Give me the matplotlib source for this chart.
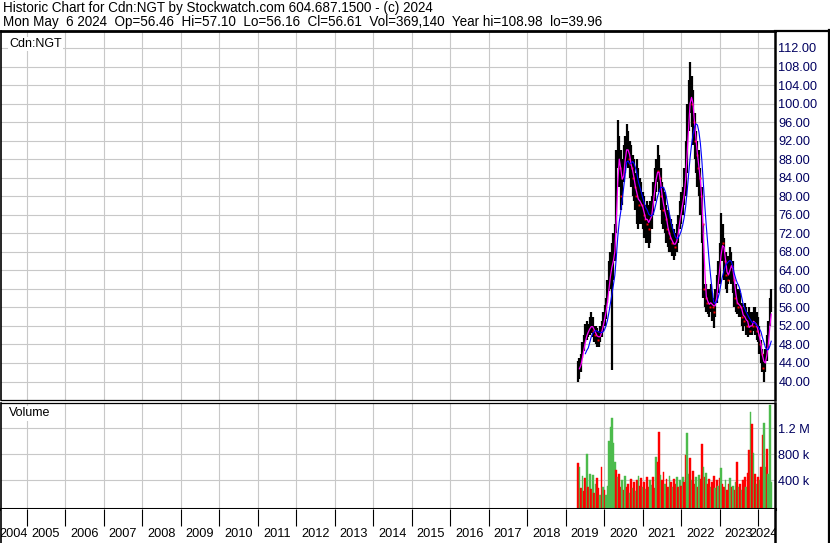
import numpy as np
import pandas as pd
import matplotlib
matplotlib.use("Agg")
import matplotlib.pyplot as plt
from matplotlib.lines import Line2D

plt.rcParams["font.family"] = ["Liberation Sans", "DejaVu Sans"]

# biweekly bars, Cdn:NGT (C$)
dates = pd.date_range(end="2024-05-06", periods=132, freq="14D")

high = [44.5, 45, 46, 48.5, 50, 52.5, 53, 52.5, 54, 55, 54, 52, 52, 51.5, 51, 52, 53, 55, 56.5, 58,
        62, 66, 68, 70, 72, 74, 90, 96.4, 93, 90, 88, 91, 93, 95.5, 94, 92, 91, 89, 88, 85,
        88, 86, 84, 83, 81, 80, 78, 79, 78, 79, 80, 83, 86, 88, 91, 89, 86, 83, 82, 81,
        78, 77, 76, 75, 74, 73, 72, 74, 76, 79, 81, 82, 86, 92, 100, 105, 109, 106, 103, 98,
        94, 92, 90, 86, 82, 74, 61, 61, 60, 60, 61, 59, 58, 60, 63, 66, 70, 76.3, 74, 71,
        68, 66, 67, 69, 68, 66, 62, 61, 60, 60, 59, 57, 56, 57, 56, 55, 56, 55, 55, 56,
        56, 55, 54, 52, 49, 47, 46, 47, 50, 53, 58, 60]
low = [39.9, 40.5, 42, 45, 46.5, 48.5, 49, 49.5, 50, 50.5, 49.5, 48.5, 48, 47.5, 47.5, 48.5, 49.5, 51, 52, 53.5,
       57, 59.5, 60, 42.4, 62, 66, 72, 86, 82, 77, 78, 83, 85, 87, 86, 84, 82, 80, 79, 77,
       74, 73, 74, 74, 73, 71, 70, 70, 68.8, 70, 73, 76, 79, 81, 83, 81, 77, 74, 73, 72,
       70, 69, 68, 68, 67, 66.2, 67, 68, 70, 73, 74, 76, 78, 80, 85, 94, 98, 95, 91, 88,
       85, 82, 80, 76, 70, 58, 56, 55, 54.5, 54, 55, 53, 51.5, 54, 57, 59, 61, 66, 66, 62,
       60, 59, 61, 62, 61, 59, 56, 55, 54.5, 54, 54, 52, 51, 52, 50, 49.5, 50, 50, 50, 51,
       50, 49, 48.5, 46, 44, 42, 39.96, 42, 44.5, 47, 52, 55]
close = [42.5, 43, 45, 47, 48.5, 50, 51, 51, 52, 52.5, 51, 50, 50.5, 49, 49.5, 50.5, 51.5, 53.5, 55, 56.5,
         60, 63, 65, 66, 67, 71, 86, 92, 86, 80, 85, 88, 90, 92, 88, 87, 86, 84, 82, 80,
         80, 78, 79, 78, 76, 75, 74, 76, 73, 76, 78, 81, 84, 86, 85.5, 84, 80, 77, 78, 75,
         73, 72, 71, 70, 70, 69, 70, 72, 74, 77, 78, 80, 83, 88, 96, 100, 104, 100, 96, 92,
         89, 86, 84, 80, 74, 60, 58, 57, 57, 56, 58, 56, 55, 58, 61, 64, 67, 71, 70, 66,
         63, 62, 64, 66, 65, 62, 58, 57, 56, 57, 56, 54, 53, 55, 52, 52, 51, 53, 52, 54,
         52, 51, 50, 48, 46, 43, 44, 45, 48, 51, 56, 56.61]
volume_k = [660, 600, 280, 470, 230, 440, 805, 300, 500, 260, 480, 200, 350, 435, 280, 180, 605, 300, 250, 180,
            320, 1000, 1220, 1363, 970, 680, 560, 450, 500, 300, 400, 250, 470, 300, 350, 200, 420, 280, 380, 230,
            400, 460, 320, 430, 300, 380, 260, 450, 300, 400, 330, 450, 280, 763, 686, 1138, 480, 400, 530, 350,
            420, 300, 470, 380, 300, 420, 350, 450, 300, 400, 320, 450, 380, 790, 1127, 500, 742, 400, 550, 350,
            450, 300, 480, 420, 965, 610, 450, 520, 350, 420, 300, 380, 460, 280, 400, 320, 430, 590, 350, 300,
            400, 250, 350, 440, 300, 320, 250, 380, 686, 300, 350, 250, 400, 450, 300, 520, 866, 1456, 1266, 820,
            500, 350, 450, 400, 600, 1097, 1280, 600, 877, 500, 1560, 369]
# bar colour as seen in the volume panel (g = up, r = down)
vol_side = ("rgrgrrgrgr" "grgrrgrgrg" "ggggggrgrr" "grgrrgrgrg" "rgrrgrgrrg"
            "grrgrrgrrg" "rrgrgrrgrg" "rgrrggrgrr" "grgrrgrgrr" "grrgrgrgrr"
            "grrgrgrgrg" "rgrrgrrgrg" "rgrgrrggrg" "gg")

W, H = 830, 543
fig = plt.figure(figsize=(W / 100, H / 100), dpi=100)


def ax_px(x0, y0, x1, y1):
    return fig.add_axes([x0 / W, 1 - y1 / H, (x1 - x0) / W, (y1 - y0) / H])


def dec_year(d):
    return np.asarray(d.year + (d.dayofyear - 1) / np.where(d.is_leap_year, 366, 365))


x = dec_year(dates)
bw = 14 / 365.25
xl = 2005 + (1 - 26.5) / 38.5
xr = 2005 + (775 - 26.5) / 38.5
years = np.arange(2005, 2025)
GRID = "#c8c8c8"
NAVY = "#000060"
TICKFS = 9.2

# ---- price panel
ax = ax_px(1, 31, 775, 399.5)
ax.set_xlim(xl, xr)
ax.set_ylim(40 + (381.5 - 399.5) / 4.632, 40 + (381.5 - 31) / 4.632)
for yv in range(40, 113, 4):
    ax.axhline(yv, color=GRID, lw=0.8, zorder=0)
for yr in years:
    ax.axvline(yr, color=GRID, lw=0.8, zorder=0)
ax.vlines(x, low, high, color="black", lw=1.6, zorder=2)
cs = pd.Series(close)
down = (cs.diff() < 0).to_numpy()
ax.plot(x[down] + bw / 2, cs[down], ls="none", marker="s", ms=1.4, color="#ff0000", mew=0, zorder=3)
ax.plot(x, cs.rolling(3, min_periods=2).mean(), color="#ff00ff", lw=0.9, zorder=4)
ax.plot(x, cs.rolling(8, min_periods=6).mean(), color="#0000ff", lw=0.8, zorder=5)
ax.yaxis.tick_right()
ax.set_yticks(range(40, 113, 4))
ax.set_yticklabels([f"{v:.2f}" for v in range(40, 113, 4)], color=NAVY, fontsize=TICKFS)
ax.tick_params(axis="y", length=0, pad=2.5)
ax.set_xticks([])
ax.spines["top"].set_linewidth(2.0)
ax.spines["right"].set_linewidth(1.8)
ax.spines["bottom"].set_linewidth(0.9)
ax.spines["left"].set_linewidth(1.2)
ax.text(8 / 774, 1 - 13 / 368.5, "Cdn:NGT", transform=ax.transAxes, fontsize=9, va="center", ha="left",
        bbox=dict(fc="white", ec="none", pad=1), zorder=6)

# ---- volume panel
vlo = -(509 - 506.3) / 26 * 400
vhi = (506.3 - 402.5) / 26 * 400
av = ax_px(1, 402.5, 775, 509)
av.set_xlim(xl, xr)
av.set_ylim(vlo, vhi)
for yv in (400, 800, 1200):
    av.axhline(yv, color=GRID, lw=0.8, zorder=0)
for yr in years:
    av.axvline(yr, color=GRID, lw=0.8, zorder=0)
vcol = ["#4cbb4c" if s == "g" else "#ff0000" for s in vol_side]
vol = np.array(volume_k, dtype=float)
av.bar(x, vol - vlo, bottom=vlo, width=bw * 1.15, color=vcol, edgecolor=vcol, lw=0.3, zorder=2)
av.yaxis.tick_right()
av.set_yticks([400, 800, 1200])
av.set_yticklabels(["400 k", "800 k", "1.2 M"], color=NAVY, fontsize=TICKFS)
av.tick_params(axis="y", length=0, pad=2.5)
av.set_xticks([])
av.spines["top"].set_linewidth(0.9)
av.spines["bottom"].set_linewidth(2.2)
av.spines["right"].set_linewidth(1.8)
av.spines["left"].set_linewidth(1.2)
av.text(8 / 774, 1 - 11 / 106.5, "Volume", transform=av.transAxes, fontsize=9, va="center", ha="left",
        bbox=dict(fc="white", ec="none", pad=1), zorder=6)

# ---- year axis
ay = ax_px(1, 509, 775, 543)
ay.set_xlim(xl, xr)
ay.set_ylim(0, 1)
ay.set_xticks([])
ay.set_yticks([])
for s in ["top", "bottom"]:
    ay.spines[s].set_visible(False)
ay.spines["right"].set_linewidth(1.8)
ay.spines["left"].set_linewidth(1.2)
ay.vlines(years, 17 / 34, 1, color="black", lw=0.8)
for yr in range(2004, 2025):
    a, b = max(yr, xl), min(yr + 1, xr)
    cx = (a + b) / 2
    if yr == 2024:
        cx -= 3 / 38.5
    ay.text(cx, 9 / 34, str(yr), ha="center", va="center", fontsize=9.2, clip_on=True)

# frame bits outside the axes
fig.add_artist(Line2D([775 / W, 1], [1 - 31 / H] * 2, color="black", lw=1.6))
fig.add_artist(Line2D([828.5 / W] * 2, [0, 1 - 30 / H], color="black", lw=1.6))

fig.text(3 / W, 1 - 8 / H, "Historic Chart for Cdn:NGT by Stockwatch.com 604.687.1500 - (c) 2024",
         fontsize=9.75, va="center", ha="left")
fig.text(3 / W, 1 - 22 / H,
         "Mon May  6 2024  Op=56.46  Hi=57.10  Lo=56.16  Cl=56.61  Vol=369,140  Year hi=108.98  lo=39.96",
         fontsize=9.75, va="center", ha="left")

fig.savefig("out.png", dpi=100)
